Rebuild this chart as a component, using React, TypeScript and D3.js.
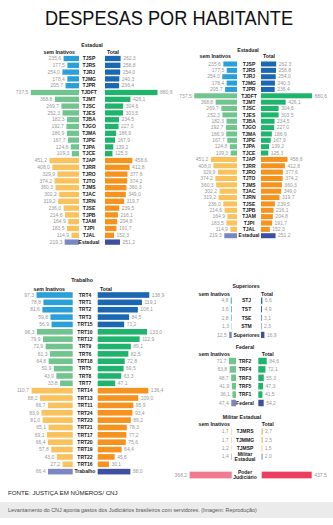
import React from "react";
import * as d3 from "d3";

// ---------- DATA ----------
const estadualNames = ["TJSP","TJRS","TJRJ","TJMG","TJPR","TJDFT","TJMT","TJSC","TJES","TJBA","TJGO","TJMA","TJPE","TJPA","TJCE","TJAP","TJRR","TJRO","TJTO","TJMS","TJAC","TJRN","TJSE","TJPB","TJAM","TJPI","TJAL","Estadual"];
const estadualSemInativos = [235.6,177.5,254.0,178.4,205.7,737.5,368.8,269.7,252.3,182.3,192.7,186.9,167.7,124.8,109.3,451.2,408.0,329.9,374.2,360.3,302.2,319.2,236.0,214.6,164.9,183.5,114.9,219.3];
const estadualTotal = [262.3,258.8,254.0,240.3,236.4,880.6,426.1,304.6,303.5,234.5,227.0,186.9,167.9,139.2,125.3,458.6,412.8,377.6,374.2,360.3,349.0,319.7,239.5,216.1,204.8,191.7,152.3,251.2];
const estadualGroups = ["grande","grande","grande","grande","grande","medio","medio","medio","medio","medio","medio","medio","medio","medio","medio","pequeno","pequeno","pequeno","pequeno","pequeno","pequeno","pequeno","pequeno","pequeno","pequeno","pequeno","pequeno","total"];

const trabalhoNames = ["TRT4","TRT1","TRT2","TRT3","TRT15","TRT10","TRT12","TRT9","TRT6","TRT18","TRT5","TRT8","TRT7","TRT14","TRT13","TRT11","TRT24","TRT23","TRT21","TRT17","TRT20","TRT19","TRT22","TRT16","Trabalho"];
const trabalhoSemInativos = [97.3,78.8,81.6,59.8,56.9,96.3,79.9,72.9,61.3,64.8,50.9,43.9,33.8,110.7,88.2,66.7,83.9,81.0,65.1,69.1,66.4,57.8,43.0,27.2,66.4];
const trabalhoTotal = [138.9,119.1,108.1,84.5,71.2,133.0,112.9,89.1,82.5,72.8,69.5,63.3,47.1,136.4,109.0,95.9,93.4,89.2,78.3,77.2,75.6,64.4,45.6,30.1,88.0];
const trabalhoGroups = ["grande","grande","grande","grande","grande","medio","medio","medio","medio","medio","medio","medio","medio","pequeno","pequeno","pequeno","pequeno","pequeno","pequeno","pequeno","pequeno","pequeno","pequeno","pequeno","total"];

const superioresNames = ["STJ","TST","TSE","STM","Superiores"];
const superioresSemInativos = [4.8,3.6,2.8,1.3,12.5];
const superioresTotal = [6.6,4.9,3.1,2.3,16.9];
const superioresGroups = ["grande","grande","grande","grande","total"];

const federalNames = ["TRF2","TRF4","TRF3","TRF5","TRF1","Federal"];
const federalSemInativos = [71.7,63.8,48.7,41.9,36.1,47.4];
const federalTotal = [84.6,72.1,55.3,47.3,41.5,54.2];
const federalGroups = ["medio","medio","medio","medio","medio","total"];

const militarNames = ["TJMRS","TJMMG","TJMSP","Militar Estadual"];
const militarSemInativos = [1.7,1.7,1.2,1.4];
const militarTotal = [2.7,2.5,1.5,2.0];
const militarGroups = ["pequeno","pequeno","pequeno","total"];

const poderNames = ["Poder Judiciário"];
const poderSemInativos = [368.2];
const poderTotal = [437.5];
const poderGroups = ["poder"];

// ---------- STYLE ----------
const palette: Record<string, [string, string]> = {
  grande: ["#2a9fd8", "#1b67b2"],
  medio: ["#72c48e", "#1fb46b"],
  pequeno: ["#f9c25c", "#f6921e"],
  total: ["#7a86c2", "#3d4fa0"],
  poder: ["#f07a92", "#ea3f5e"],
};

const FONT = "'Liberation Sans', Arial, sans-serif";
const locale = d3.formatLocale({ decimal: ",", thousands: ".", grouping: [3], currency: ["R$", ""] });
const fmt = locale.format(".1f");

type Panel = {
  title?: string;
  titleX?: number;
  titleY?: number;
  hdrY?: number;
  hdrL?: number;
  hdrR?: number;
  names: string[];
  left: number[];
  right: number[];
  groups: string[];
  cx: number;
  le: number;
  rs: number;
  y0: number;
  step: number;
  bh: number;
  maxW: number;
  maxWL?: number;
  maxV: number;
  lineGap?: number;
};

function PanelView({ p }: { p: Panel }) {
  const sxR = d3.scaleLinear().domain([0, p.maxV]).range([0, p.maxW]);
  const sxL = d3.scaleLinear().domain([0, p.maxV]).range([0, p.maxWL ?? p.maxW]);
  const y = d3.scaleLinear().domain([0, 1]).range([p.y0, p.y0 + p.step]);
  return (
    <g>
      {p.title && (
        <text x={p.titleX} y={p.titleY} dy="0.35em" textAnchor="middle" fontSize={5.2} fontWeight="bold" fill="#222">
          {p.title}
        </text>
      )}
      {p.hdrY !== undefined && (
        <g fontSize={5.2} fontWeight="bold" fill="#222">
          <text x={p.hdrL} y={p.hdrY} dy="0.35em" textAnchor="end">sem Inativos</text>
          <text x={p.hdrR} y={p.hdrY} dy="0.35em" textAnchor="start">Total</text>
        </g>
      )}
      {p.names.map((n, i) => {
        const yc = y(i);
        const wl = sxL(p.left[i]);
        const wr = sxR(p.right[i]);
        const [cl, cr] = palette[p.groups[i]];
        const lines = n.includes(" ") ? n.split(" ") : [n];
        const lg = p.lineGap ?? 5;
        return (
          <g key={n}>
            <rect x={p.le - wl} y={yc - p.bh / 2} width={wl} height={p.bh} fill={cl} />
            <rect x={p.rs} y={yc - p.bh / 2} width={wr} height={p.bh} fill={cr} />
            <text x={p.le - wl - 2.5} y={yc} dy="0.35em" textAnchor="end" fontSize={5} fill="#999">
              {fmt(p.left[i])}
            </text>
            <text x={p.rs + wr + 2.5} y={yc} dy="0.35em" textAnchor="start" fontSize={5} fill="#999">
              {fmt(p.right[i])}
            </text>
            {lines.map((t, k) => (
              <text
                key={k}
                x={p.cx}
                y={yc + (k - (lines.length - 1) / 2) * lg}
                dy="0.35em"
                textAnchor="middle"
                fontSize={5}
                fontWeight="bold"
                fill="#1a1a1a"
              >
                {t}
              </text>
            ))}
          </g>
        );
      })}
    </g>
  );
}

export default function App() {
  const panels: Panel[] = [
    {
      title: "Estadual", titleX: 92, titleY: 45, hdrY: 52, hdrL: 75, hdrR: 107,
      names: estadualNames, left: estadualSemInativos, right: estadualTotal, groups: estadualGroups,
      cx: 89, le: 79, rs: 105, y0: 58.5, step: 6.8, bh: 5.3, maxV: 880.6, maxW: 52.5, maxWL: 57.5,
    },
    {
      title: "Estadual", titleX: 248, titleY: 50, hdrY: 56, hdrL: 231, hdrR: 263,
      names: estadualNames, left: estadualSemInativos, right: estadualTotal, groups: estadualGroups,
      cx: 249, le: 237, rs: 261, y0: 64, step: 6.36, bh: 5.0, maxV: 880.6, maxW: 51,
    },
    {
      title: "Trabalho", titleX: 82, titleY: 280, hdrY: 289, hdrL: 65, hdrR: 100,
      names: trabalhoNames, left: trabalhoSemInativos, right: trabalhoTotal, groups: trabalhoGroups,
      cx: 85, le: 72.7, rs: 97.7, y0: 295, step: 7.36, bh: 5.6, maxV: 138.9, maxW: 51.6,
    },
    {
      title: "Superiores", titleX: 246, titleY: 285.7, hdrY: 294, hdrL: 230, hdrR: 261,
      names: superioresNames, left: superioresSemInativos, right: superioresTotal, groups: superioresGroups,
      cx: 246.5, le: 231.7, rs: 261, y0: 300.7, step: 8.55, bh: 6.2, maxV: 16.9, maxW: 3.4,
    },
    {
      title: "Federal", titleX: 245, titleY: 346.7, hdrY: 354, hdrL: 230, hdrR: 261.7,
      names: federalNames, left: federalSemInativos, right: federalTotal, groups: federalGroups,
      cx: 245, le: 236, rs: 258.3, y0: 361, step: 8.4, bh: 6.5, maxV: 84.6, maxW: 8.4,
    },
    {
      title: "Militar Estadual", titleX: 242, titleY: 416.7, hdrY: 424, hdrL: 230, hdrR: 261.7,
      names: militarNames, left: militarSemInativos, right: militarTotal, groups: militarGroups,
      cx: 245, le: 231.7, rs: 261.7, y0: 431.7, step: 8.3, bh: 6.2, maxV: 2.7, maxW: 0.9,
    },
    {
      names: poderNames, left: poderSemInativos, right: poderTotal, groups: poderGroups,
      cx: 245, le: 231.7, rs: 261.7, y0: 475, step: 8, bh: 6.7, maxV: 437.5, maxW: 50, lineGap: 5.4,
    },
  ];

  return (
    <svg
      width={333}
      height={525}
      style={{ position: "absolute", left: 0, top: 0, background: "#fff" }}
      fontFamily={FONT}
    >
      <rect x={0} y={0} width={333} height={525} fill="#fff" />
      <text x={169} y={25} textAnchor="middle" fontSize={19.5} fill="#111" textLength={248} lengthAdjust="spacingAndGlyphs">
        DESPESAS POR HABITANTE
      </text>
      {panels.map((p, i) => (
        <PanelView key={i} p={p} />
      ))}
      <text x={8} y={495} fontSize={6.2} fill="#222">FONTE: JUSTIÇA EM NÚMEROS/ CNJ</text>
      <rect x={0} y={502} width={333} height={16} fill="#ebebeb" />
      <text x={8} y={510.5} dy="0.35em" fontSize={5.4} fill="#555">
        Levantamento do CNJ aponta gastos dos Judiciários brasileiros com servidores. (Imagem: Reprodução)
      </text>
    </svg>
  );
}
